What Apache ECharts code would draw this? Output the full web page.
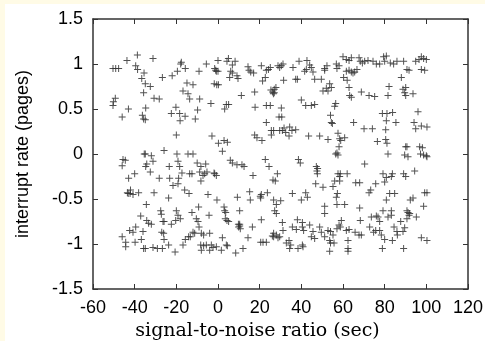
<!DOCTYPE html>
<html>
<head>
<meta charset="utf-8">
<script src="https://cdn.jsdelivr.net/npm/echarts@6/dist/echarts.min.js"></script>
<style>
html,body{margin:0;padding:0;background:#fffbe6;}
#wrap{position:absolute;left:5px;top:4px;width:480px;height:337px;background:#fff;}
#chart{position:absolute;left:-5px;top:-4px;width:485px;height:341px;}
</style>
</head>
<body>
<div id="wrap"><div id="chart"></div></div>
<script>
const xTicks = [-60, -40, -20, 0, 20, 40, 60, 80, 100, 120];
const yTicks = [-1.5, -1, -0.5, 0, 0.5, 1, 1.5];
const xTitle = 'signal-to-noise ratio (sec)';
const yTitle = 'interrupt rate (pages)';

// points with positive interrupt rate (snr, rate)
const upperPoints = [
[-50.4,0.95],[-49.1,0.95],[-47.7,0.95],[-49.3,0.62],[-50.2,0.58],[-50.4,0.54],
[-46,0.41],[-43.7,1.04],[-43,0.5],[-38.7,1.1],[-39.5,0.98],[-38.6,0.94],
[-35.5,0.9],[-36.6,0.84],[-34.9,0.78],[-32.5,0.75],[-35.7,0.68],[-34.7,0.51],
[-36.3,0.43],[-35.7,0.39],[-34.9,0.38],[-31.2,1.06],[-30.7,0.62],[-28.2,0.61],
[-26.7,0.85],[-22,0.87],[-19.5,0.92],[-17.6,1.02],[-17.9,1.0],[-15.7,0.95],
[-16.8,0.70],[-14.9,0.79],[-12,0.77],[-14.4,0.67],[-13.6,0.61],[-20.2,0.52],
[-22.4,0.45],[-18.4,0.45],[-15.8,0.42],[-18.2,0.37],[-10.9,0.39],[-9.8,0.49],
[-8.8,0.61],[-9.1,0.92],[-5.6,1.0],[-3.4,0.56],
[-1.6,0.95],[-1.1,0.93],[-0.8,0.92],[0,0.92],[0,1.04],
[-1.8,0.78],[-0.6,0.77],[0.2,0.77],[3.2,0.5],[4,0.55],[5.1,0.55],
[5,1.06],[4.3,1.03],[6.9,0.99],[8.2,1.03],[6.1,0.92],[6.9,0.9],[9.1,0.87],[9.6,0.84],[5.6,0.85],
[11.2,0.65],[14.4,0.97],[14.9,0.93],[15.7,0.91],[17.1,0.9],[17.6,0.69],[17.8,0.52],
[20.8,0.98],[21.4,0.81],[23.2,0.93],[24.2,0.94],[25.1,0.96],[22.7,0.85],
[23.2,0.54],[25.1,0.54],[23.2,0.35],
[25.4,0.71],[26.2,0.69],[27,0.72],[27.8,0.74],[26.6,0.67],[27,0.68],
[28.8,0.98],[29.6,0.96],[30.4,0.98],[31.2,1.0],[31.5,0.82],[30.4,0.51],[29.3,0.41],[30.6,0.41],
[25.6,0.26],[25.6,0.21],[26.7,0.26],[29.6,0.26],[30.9,0.26],[32.5,0.24],[31.7,0.29],
[34.4,0.3],[34.1,0.2],[35.5,0.26],[37.3,0.27],[36,0.96],[37.3,0.83],[38.1,0.83],[38.9,1.03],
[40,0.6],[41.6,0.92],[42.4,0.94],[42.7,1.04],[44,0.99],[44.8,0.96],[45.6,0.91],
[42.1,0.54],[44.8,0.54],[46.4,0.55],[43.5,0.2],[46.4,0.83],[48.8,0.2],[49.6,0.83],
[51.2,0.95],[52.3,0.98],[51.2,0.93],[52,0.73],[52.8,0.70],[53.6,0.78],[54.4,0.74],[50.4,0.70],
[54,0.43],[54.9,0.34],[54.4,0.35],[52.8,0.16],[56,0.53],[56.5,0.56],
[56.8,1.0],[57.1,0.95],[58.1,0.98],[57.6,0.23],[58.4,0.17],[58.9,0.15],[58.1,0.08],
[60,1.08],[61.6,1.05],[62.9,1.04],[64,1.07],[60.3,0.85],[61.6,0.92],[62.9,0.93],[64,0.91],[64.8,0.9],
[62,0.82],[62.9,0.74],[63.2,0.65],[64,0.63],[60.8,0.18],[65.1,0.35],[65.6,0.91],[66.7,0.94],
[67.7,1.07],[68.3,1.03],[69.3,1.01],[70.4,1.03],[72,1.04],[68.8,0.69],[70.1,0.28],
[72.5,0.65],[75.2,0.64],[74.1,0.28],[74.4,1.03],[76,1.0],[77.6,1.0],[76.5,0.14],[78.9,0.45],
[79.5,1.08],[80.8,1.09],[80,1.03],[81.1,0.45],[80.8,0.37],[80.5,0.27],[80.5,0.16],[81.1,0.12],
[81.6,0.65],[82.1,0.75],[82.7,1.01],[84.3,1.0],[85.9,1.03],[83.8,0.46],[85.4,0.35],[81.6,0.0],
[88,0.85],[89.1,1.03],[90.7,0.94],[91.7,0.93],[88.8,0.72],[89.6,0.68],[90.1,0.74],[90.1,0.65],
[90.1,0.08],[90.7,0.08],[93.6,0.67],
[94.9,1.03],[96.5,1.05],[97.6,1.08],[98.7,1.06],[100,1.05],[97.6,0.94],[99.2,0.93],
[96,0.47],[94.9,0.28],[94.1,0.35],[97.6,0.31],[100.3,0.30],[96.8,0.08],[98.1,0.07],
[0.2,0.12],[2.1,0.03],[2.9,0.15],[4.5,0.13],[-2.9,0.2],[17.6,0.21],[18.7,0.18],[21.1,0.15],
[-25.9,0.04],[-20,0.21],[57.1,0.01]
];

// points with zero / negative interrupt rate (snr, rate)
const lowerPoints = [
[89.6,-0.01],[91.2,-0.03],[97.2,0],[98.7,-0.01],[100,-0.02],[100.3,-0.03],
[-45.6,-0.06],[-44.5,-0.07],[-46,-0.13],[-40,-0.22],[-42.9,-0.27],
[-42,-0.4],[-43.1,-0.44],[-42.2,-0.44],[-40.8,-0.45],[-38.1,-0.43],[-43.5,-0.43],
[-35.4,0],[-34.9,0],[-34.2,-0.11],[-34.7,-0.14],[-32,-0.02],[-31.2,-0.08],[-32.5,-0.2],
[-28.2,-0.27],[-30.7,-0.43],[-34.4,-0.56],[-37.1,-0.69],
[-34.2,-0.74],[-32,-0.78],[-33.3,-0.77],
[-46,-0.92],[-44.3,-0.98],[-44.3,-1.03],[-42.4,-0.85],[-40.8,-0.87],[-39.5,-0.81],
[-39.8,-0.98],[-36,-0.86],[-36.8,-0.95],[-35.7,-1.05],[-34.9,-1.05],[-31.2,-1.04],
[-29.1,-1.05],[-26.7,-1.05],[-27.5,-0.63],[-27.2,-0.67],[-26.4,-0.75],[-25.9,-0.75],
[-27,-0.87],[-26.1,-0.88],[-25.9,-0.95],[-23.7,-1.01],[-23.7,-0.49],[-23.2,-0.27],
[-23.4,-0.14],[-21.6,-0.35],[-20.6,-1.09],[-19.7,0],[-19.2,-0.08],
[-18.4,-0.14],[-18.9,-0.27],[-19.2,-0.33],[-17.3,-0.21],[-20,-0.63],[-19.2,-0.68],
[-18.1,-0.72],[-20.3,-0.74],[-22.4,-0.78],[-16.8,-1.01],[-15.7,-0.95],[-14.1,-0.92],[-13.3,-0.92],
[-16,-0.4],[-13.9,-0.44],[-14.4,0],[-12,0],[-13.6,-0.22],[-12.5,-0.22],[-12.5,-0.65],
[-12,-0.87],[-11.2,-0.88],[-9.3,-0.59],[-9.6,-0.75],[-10.4,-0.72],[-9.1,-0.81],
[-10,-0.1],[-8.2,-0.14],[-7.2,-0.24],[-8.8,-0.2],[-8.2,-0.3],[-5.9,-0.11],[-5.3,-0.2],[-6.4,-0.22],
[-4.8,-0.45],[-4.3,-0.68],[-4,-0.88],[-6.9,-0.9],[-8,-0.88],
[-8.3,-1.01],[-6.9,-1.02],[-5.6,-1.01],[-3.2,-1.01],[-8,-1.07],[-4,-1.07],[-2.4,-1.04],[-0.8,-1.03],[1.6,-1.07],
[-1.6,-0.22],[-0.8,-0.24],[-1.9,-0.21],[-0.5,-0.51],
[2.9,-0.59],[3.2,-0.63],[3.7,-0.65],[3.5,-0.72],[4.3,-0.74],[5.1,-0.75],
[2.1,-0.93],[4,-1.01],[4.5,-1.02],
[5.9,-0.07],[6.9,-0.1],[9.1,-0.12],[9.3,-0.48],[8.5,-1.1],
[9.8,-0.78],[10.4,-0.8],[10.7,-0.83],[10.4,-0.78],[9.9,-0.81],[10.4,-0.63],
[12,-1.05],[11.5,-0.12],[12.5,-0.14],[14.4,-0.93],[15.2,-0.42],[15.5,-0.51],
[16.5,-0.81],[16.8,-0.24],
[20.3,-0.47],[20.8,-0.45],[20.5,-0.49],[20.8,-0.73],
[20.5,-0.98],[21.6,-0.98],[23.2,-0.98],[22.7,-0.06],[24.5,-0.14],[23.7,-0.43],
[26.4,-0.29],[27.5,-0.3],[28,-0.56],[27.2,-0.63],[28,-0.66],[26.7,-0.51],[28.5,-0.22],[30.1,-0.52],
[26.7,-0.88],[26.7,-0.92],[26.1,-0.91],[28,-0.9],[28.8,-0.93],[29.6,-0.92],
[31.2,-0.85],[30.9,-0.76],[32.8,-0.99],[34.9,-1.01],[34.4,-1.05],[34.1,-0.96],
[35.7,-0.44],[35.7,-0.81],[37.6,-0.84],[38.1,-0.73],[38.6,-0.06],[39.5,-0.1],
[40,-0.51],[40.5,-0.81],[40.5,-0.76],[41.1,-0.85],[38.4,-1.05],[40.8,-1.03],[40.5,-1.01],
[42.1,-0.43],[42.9,-0.48],[44,-0.79],[45.6,-0.86],[46.4,-0.94],[44.8,-0.92],
[47.2,-0.14],[47.5,-0.19],[47.7,-0.22],[47.8,-0.16],[46.9,-0.33],[48.8,-0.81],
[50.4,-0.37],[51.2,-0.58],[51.2,-0.66],[49.6,-0.87],[51.2,-0.92],
[52.8,-0.85],[54,-0.86],[53.6,-0.96],[54,-0.99],[53.6,-1.08],
[55.2,-0.36],[56,-0.3],[57.3,-0.44],[56.8,-0.48],[57.1,-0.56],
[56.5,0],[57.6,-0.01],
[57.6,-0.22],[58.4,-0.25],[58.4,-0.3],[58.7,-0.22],[62,-0.22],
[57.1,-0.83],[58.7,-0.81],[58.1,-0.79],[59.2,-0.74],[55.7,-0.99],[55.2,-0.9],
[60.8,-0.56],[61.6,-0.85],[62.4,-0.96],[62.4,-1.05],[62.4,-1.08],[62.9,-0.84],
[66.1,-0.32],[68,-0.32],[68,-0.6],[65.8,-0.87],[67.7,-0.9],[68.8,-0.9],[68.3,-0.74],
[70.4,-0.11],[72.5,-0.43],[73.3,-0.4],[75.7,-0.33],[73.6,-0.7],[72.8,-0.81],
[74.7,-0.87],[75.7,-0.85],[76,-0.69],[76.8,-0.7],[77.6,-0.75],[77.6,-0.85],[78.4,-0.9],
[79.2,-0.22],[80,-0.31],[80.8,-0.26],[79.2,-0.63],[78.9,-1.05],[80,-0.95],[80.8,-0.51],
[81.6,-0.7],[83.2,-0.63],[83.2,-0.68],[83.7,-0.22],[83.2,-0.25],[82.4,-0.44],[84.8,-0.44],
[84.5,-0.81],[85.9,-0.86],[86.1,-0.9],[83.7,-0.96],[87.7,-0.75],[89.1,-1.05],
[89.1,-0.22],[90.1,-0.25],[88.8,-0.86],[89.6,-0.82],
[90.7,-0.63],[91.2,-0.65],[91.7,-0.68],[92,-0.66],[90.7,-0.72],[92.3,-0.51],[93.6,-0.49],
[94.4,-0.19],[95.2,-0.7],[97.6,-0.93],[98.7,-0.58],[99.2,-0.43],[100.3,-0.43],[100.3,-0.96]
];

const chart = echarts.init(document.getElementById('chart'), null, {renderer: 'canvas'});
const plusPath = 'path://M-1,-0.14H1V0.14H-1Z M-0.14,-1H0.14V1H-0.14Z';
const axisColor = '#333';
const labelFont = {color: '#000', fontSize: 18, fontFamily: 'Liberation Sans, Arial, sans-serif'};

const xMin = xTicks[0], xMax = xTicks[xTicks.length - 1];
const yMin = yTicks[0], yMax = yTicks[yTicks.length - 1];
const xStep = xTicks[1] - xTicks[0];
const yStep = yTicks[1] - yTicks[0];

function baseAxis(min, max, step) {
  return {
    type: 'value', min: min, max: max, interval: step,
    splitLine: {show: false},
    axisLine: {show: true, onZero: false, lineStyle: {color: axisColor, width: 1.5}},
    axisTick: {show: true, inside: true, length: 5, lineStyle: {color: axisColor, width: 1}}
  };
}

const option = {
  backgroundColor: 'transparent',
  animation: false,
  grid: {left: 93, right: 17, top: 19, bottom: 52, containLabel: false, outerBoundsMode: 'none'},
  xAxis: [
    Object.assign(baseAxis(xMin, xMax, xStep), {
      position: 'bottom',
      axisLabel: Object.assign({margin: 10}, labelFont),
      name: xTitle, nameLocation: 'middle', nameGap: 30,
      nameTextStyle: {color: '#000', fontSize: 19, fontFamily: 'DejaVu Serif, serif', padding: [0, 46, 0, 0]}
    }),
    Object.assign(baseAxis(xMin, xMax, xStep), {position: 'top', axisLabel: {show: false}})
  ],
  yAxis: [
    Object.assign(baseAxis(yMin, yMax, yStep), {
      position: 'left',
      axisLabel: Object.assign({margin: 10}, labelFont),
      name: yTitle, nameLocation: 'middle', nameGap: 61, nameRotate: 90,
      nameTextStyle: {color: '#000', fontSize: 18, fontFamily: 'Liberation Sans, Arial, sans-serif'}
    }),
    Object.assign(baseAxis(yMin, yMax, yStep), {position: 'right', axisLabel: {show: false}})
  ],
  series: [
    {type: 'scatter', data: upperPoints, symbol: plusPath, symbolSize: 7, silent: true,
     itemStyle: {color: '#333', opacity: 0.85}},
    {type: 'scatter', data: lowerPoints, symbol: plusPath, symbolSize: 7, silent: true,
     itemStyle: {color: '#333', opacity: 0.85}}
  ]
};
chart.setOption(option);
</script>
</body>
</html>
